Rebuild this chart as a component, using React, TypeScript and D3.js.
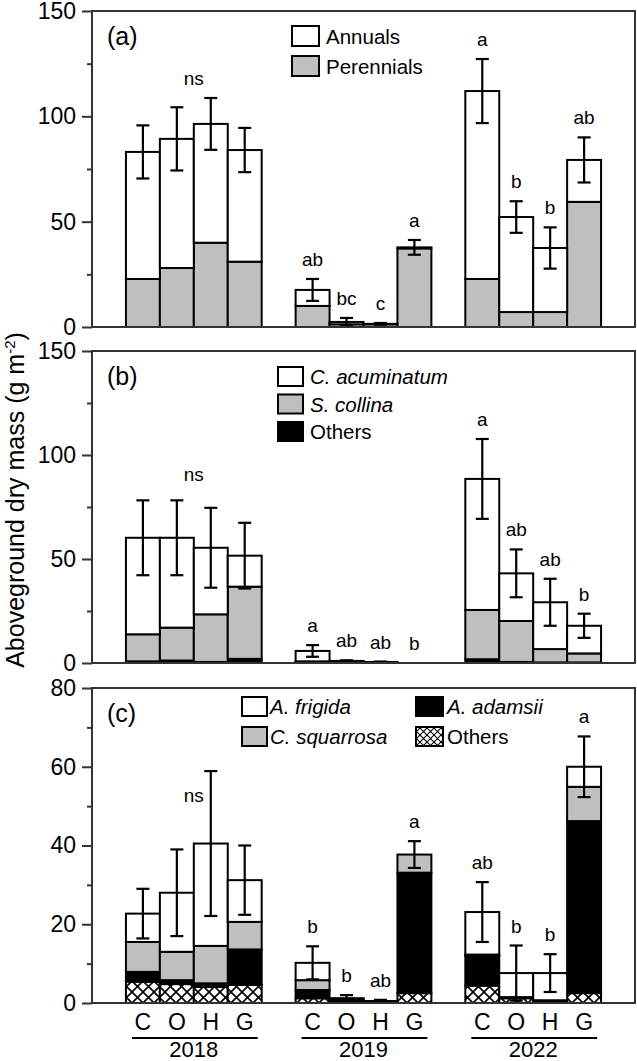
import React, { useEffect, useRef } from 'react';
import * as d3 from 'd3';

const treatments = ['C', 'O', 'H', 'G'];
const years = ['2018', '2019', '2022'];

// (a) life form
const perennialsA = [22.8, 28, 40, 31, 10, 1.3, 1.3, 37.3, 22.8, 7.1, 7.1, 59.4];
const annualsA = [60.3, 61.3, 56.4, 53, 7.6, 1.1, 0.2, 0.5, 89.2, 45.1, 30.4, 19.9];
const seA = [12.6, 15, 12.3, 10.5, 5.2, 1.9, 0.4, 3.5, 15.2, 7.5, 9.8, 10.7];
const lettersA = ['', '', '', '', 'ab', 'bc', 'c', 'a', 'a', 'b', 'b', 'ab'];

// (b) annual species
const othersB = [0.8, 1.2, 0.5, 2, 0.5, 0.8, 0.3, 0, 1.8, 0.5, 0.3, 0.3];
const collinaB = [13, 15.8, 22.9, 34.7, 0.3, 0, 0, 0, 23.7, 19.7, 6.4, 4.3];
const acuminatumB = [46.4, 43.2, 32, 14.9, 5, 0.2, 0.2, 0, 63, 22.9, 22.5, 13.3];
const seB = [18, 18, 19.2, 15.8, 2.8, 0.3, 0.2, 0, 19.2, 11.5, 11.3, 5.8];
const lettersB = ['', '', '', '', 'a', 'ab', 'ab', 'b', 'a', 'ab', 'ab', 'b'];

// (c) perennial species
const othersC = [5.4, 4.8, 4.1, 4.6, 1.2, 0.3, 0.1, 2.5, 4.4, 1.2, 0.3, 2.5];
const adamsiiC = [2.5, 1.0, 0.9, 9.0, 2.1, 0.7, 0.2, 30.6, 7.6, 0.2, 0.3, 43.7];
const squarrosaC = [7.6, 7.2, 9.5, 7.0, 2.5, 0.1, 0.1, 4.6, 0.3, 0.1, 0.1, 8.7];
const frigidaC = [7.2, 15, 26, 10.6, 4.4, 0.1, 0.1, 0, 10.8, 6.1, 6.9, 5.1];
const seC = [6.3, 11, 18.4, 8.8, 4.2, 0.8, 0.3, 3.4, 7.6, 7, 4.8, 7.7];
const lettersC = ['', '', '', '', 'b', 'b', 'ab', 'a', 'ab', 'b', 'b', 'a'];

// "ns" label height (data units) over the 2018 group
const nsA = 115;
const nsB = 87.5;
const nsC = 51;

const W = 637;
const H = 1061;
const GRAY = '#bfbfbf';
const FONT = '"Liberation Sans", Arial, Helvetica, sans-serif';

const App: React.FC = () => {
    const svgRef = useRef<SVGSVGElement>(null);

    useEffect(() => {
        if (!svgRef.current) return;
        const svg = d3.select(svgRef.current);
        svg.selectAll('*').remove();

        svg.append('rect').attr('width', W).attr('height', H).attr('fill', '#fff');

        const defs = svg.append('defs');
        const hatch = (id: string, s: number, sw: number, oy: number) => {
            const p = defs.append('pattern')
                .attr('id', id)
                .attr('patternUnits', 'userSpaceOnUse')
                .attr('width', s)
                .attr('height', s)
                .attr('y', oy);
            p.append('rect').attr('width', s).attr('height', s).attr('fill', '#fff');
            p.append('path')
                .attr('d', `M0,0L${s},${s}M${s},0L0,${s}`)
                .attr('stroke', '#000')
                .attr('stroke-width', sw);
        };
        hatch('xhatch', 11, 1.6, 2);
        hatch('xhatchSmall', 7, 1.1, 0);

        const x = d3.scaleLinear().domain([0, 16]).range([92, 635]);
        const slot = (i: number) => 1 + Math.floor(i / 4) * 5 + (i % 4);
        const bw = x(1) - x(0);

        const panels = [
            {
                label: '(a)', top: 11, bottom: 327, max: 150, step: 50, minor: 25,
                series: [
                    { key: 'Perennials', values: perennialsA, fill: GRAY },
                    { key: 'Annuals', values: annualsA, fill: '#fff' },
                ],
                se: seA, letters: lettersA, ns: nsA,
                legend: [
                    { name: 'Annuals', fill: '#fff', italic: false, bx: 292, dy: 15, w: 27, h: 20, tx: 326 },
                    { name: 'Perennials', fill: GRAY, italic: false, bx: 292, dy: 45, w: 27, h: 20, tx: 326 },
                ],
            },
            {
                label: '(b)', top: 351, bottom: 663, max: 150, step: 50, minor: 25,
                series: [
                    { key: 'Others', values: othersB, fill: '#000' },
                    { key: 'S. collina', values: collinaB, fill: GRAY },
                    { key: 'C. acuminatum', values: acuminatumB, fill: '#fff' },
                ],
                se: seB, letters: lettersB, ns: nsB,
                legend: [
                    { name: 'C. acuminatum', fill: '#fff', italic: true, bx: 278, dy: 16, w: 25, h: 19, tx: 310 },
                    { name: 'S. collina', fill: GRAY, italic: true, bx: 278, dy: 43.5, w: 25, h: 19, tx: 310 },
                    { name: 'Others', fill: '#000', italic: false, bx: 278, dy: 71, w: 25, h: 19, tx: 310 },
                ],
            },
            {
                label: '(c)', top: 688, bottom: 1003, max: 80, step: 20, minor: 10,
                series: [
                    { key: 'Others', values: othersC, fill: 'url(#xhatch)' },
                    { key: 'A. adamsii', values: adamsiiC, fill: '#000' },
                    { key: 'C. squarrosa', values: squarrosaC, fill: GRAY },
                    { key: 'A. frigida', values: frigidaC, fill: '#fff' },
                ],
                se: seC, letters: lettersC, ns: nsC,
                legend: [
                    { name: 'A. frigida', fill: '#fff', italic: true, bx: 242, dy: 9, w: 25, h: 19, tx: 270 },
                    { name: 'C. squarrosa', fill: GRAY, italic: true, bx: 242, dy: 39, w: 25, h: 19, tx: 270 },
                    { name: 'A. adamsii', fill: '#000', italic: true, bx: 416, dy: 9, w: 27, h: 19, tx: 447 },
                    { name: 'Others', fill: 'url(#xhatchSmall)', italic: false, bx: 416, dy: 39, w: 27, h: 19, tx: 447 },
                ],
            },
        ];

        panels.forEach(p => {
            const y = d3.scaleLinear().domain([0, p.max]).range([p.bottom, p.top]);
            const g = svg.append('g').style('font-family', FONT);

            // stacked bars
            const keys = p.series.map(s => s.key);
            const rows = d3.range(12).map(i => {
                const r: Record<string, number> = {};
                p.series.forEach(s => { r[s.key] = s.values[i]; });
                return r;
            });
            const stacked = d3.stack<Record<string, number>>().keys(keys)(rows);
            stacked.forEach((layer, li) => {
                g.append('g')
                    .selectAll('rect')
                    .data(layer)
                    .join('rect')
                    .attr('x', (d, i) => x(slot(i)))
                    .attr('width', bw)
                    .attr('y', d => y(d[1]))
                    .attr('height', d => y(d[0]) - y(d[1]))
                    .attr('fill', p.series[li].fill)
                    .attr('stroke', '#000')
                    .attr('stroke-width', 2);
            });

            const totals = d3.range(12).map(i => d3.sum(p.series, s => s.values[i]));

            // error bars
            totals.forEach((t, i) => {
                const se = p.se[i];
                if (!se) return;
                const cx = x(slot(i) + 0.5);
                const eb = g.append('g').attr('stroke', '#000').attr('stroke-width', 2.2);
                eb.append('line').attr('x1', cx).attr('x2', cx).attr('y1', y(t - se)).attr('y2', y(t + se));
                eb.append('line').attr('x1', cx - 6.5).attr('x2', cx + 6.5).attr('y1', y(t + se)).attr('y2', y(t + se));
                eb.append('line').attr('x1', cx - 6.5).attr('x2', cx + 6.5).attr('y1', y(t - se)).attr('y2', y(t - se));
            });

            // significance letters
            totals.forEach((t, i) => {
                if (!p.letters[i]) return;
                g.append('text')
                    .attr('x', x(slot(i) + 0.5))
                    .attr('y', y(t + p.se[i]) - 13)
                    .attr('text-anchor', 'middle')
                    .style('font-size', '19px')
                    .text(p.letters[i]);
            });
            g.append('text')
                .attr('x', x(3))
                .attr('y', y(p.ns))
                .attr('text-anchor', 'middle')
                .style('font-size', '19px')
                .text('ns');

            // frame
            g.append('rect')
                .attr('x', x(0))
                .attr('y', p.top)
                .attr('width', x(16) - x(0))
                .attr('height', p.bottom - p.top)
                .attr('fill', 'none')
                .attr('stroke', '#333')
                .attr('stroke-width', 2);

            // y axis
            const majors = d3.range(0, p.max + 1, p.step);
            const minors = d3.range(p.minor, p.max, p.step);
            const ax = g.append('g')
                .attr('transform', `translate(${x(0)},0)`)
                .call(d3.axisLeft(y).tickValues(majors).tickSize(10).tickPadding(6).tickFormat(d3.format('d')));
            ax.select('.domain').remove();
            ax.selectAll('line').attr('stroke', '#333').attr('stroke-width', 2);
            ax.selectAll('text')
                .attr('fill', '#000')
                .style('font-family', FONT)
                .style('font-size', '23px');
            const mn = g.append('g')
                .attr('transform', `translate(${x(0)},0)`)
                .call(d3.axisLeft(y).tickValues(minors).tickSize(5).tickFormat(() => ''));
            mn.select('.domain').remove();
            mn.selectAll('line').attr('stroke', '#333').attr('stroke-width', 2);

            // panel label
            g.append('text')
                .attr('x', 107)
                .attr('y', p.top + 34)
                .style('font-size', '25px')
                .text(p.label);

            // legend
            p.legend.forEach(l => {
                g.append('rect')
                    .attr('x', l.bx)
                    .attr('y', p.top + l.dy)
                    .attr('width', l.w)
                    .attr('height', l.h)
                    .attr('fill', l.fill)
                    .attr('stroke', '#000')
                    .attr('stroke-width', 2);
                g.append('text')
                    .attr('x', l.tx)
                    .attr('y', p.top + l.dy + l.h / 2 + 7.5)
                    .style('font-size', '20.5px')
                    .style('font-style', l.italic ? 'italic' : 'normal')
                    .text(l.name);
            });
        });

        // x categories and years
        const xg = svg.append('g').style('font-family', FONT);
        d3.range(12).forEach(i => {
            xg.append('text')
                .attr('x', x(slot(i) + 0.5))
                .attr('y', 1030)
                .attr('text-anchor', 'middle')
                .style('font-size', '23px')
                .text(treatments[i % 4]);
        });
        years.forEach((yr, gi) => {
            const x0 = x(1 + gi * 5);
            const x1 = x(5 + gi * 5);
            xg.append('line')
                .attr('x1', x0 + 6)
                .attr('x2', x1 - 4)
                .attr('y1', 1038)
                .attr('y2', 1038)
                .attr('stroke', '#000')
                .attr('stroke-width', 2);
            xg.append('text')
                .attr('x', (x0 + x1) / 2)
                .attr('y', 1057)
                .attr('text-anchor', 'middle')
                .style('font-size', '22px')
                .text(yr);
        });

        // y title
        const t = svg.append('text')
            .attr('transform', 'translate(24,500) rotate(-90)')
            .attr('text-anchor', 'middle')
            .style('font-family', FONT)
            .style('font-size', '25px')
            .text('Aboveground dry mass (g m');
        t.append('tspan').attr('dy', -9).style('font-size', '15px').text('-2');
        t.append('tspan').attr('dy', 9).text(')');
    }, []);

    return (
        <div style={{ position: 'absolute', left: 0, top: 0 }}>
            <svg ref={svgRef} width={W} height={H} style={{ display: 'block' }} />
        </div>
    );
};

export default App;
